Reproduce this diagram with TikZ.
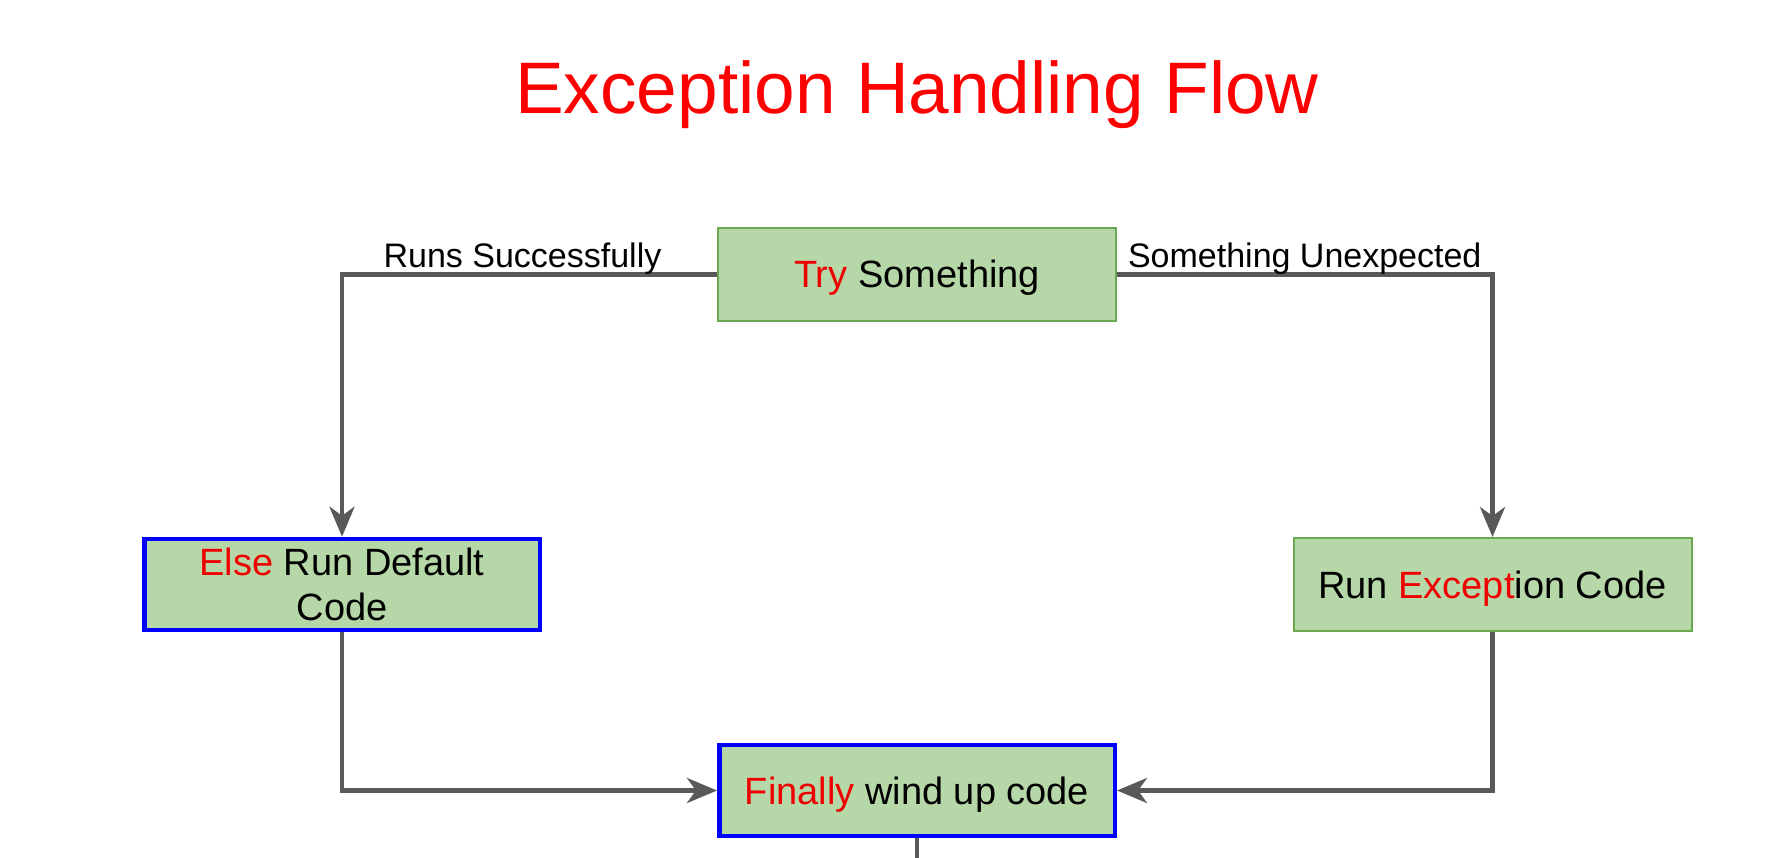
\documentclass[tikz,border=0pt]{standalone}
\usepackage{fontspec}
\setmainfont{Liberation Sans}
\usetikzlibrary{arrows.meta}
\definecolor{boxgreen}{HTML}{B6D7A8}
\definecolor{edgegreen}{HTML}{6AA84F}
\definecolor{linegray}{HTML}{595959}
\definecolor{hired}{HTML}{FF0000}
\definecolor{txtred}{HTML}{EE0000}
\tikzset{
  gbox/.style={draw=edgegreen, line width=2pt, fill=boxgreen, minimum width=398pt, minimum height=93pt, inner sep=0pt, align=center, text height=27pt, text depth=0pt, font=\fontsize{38}{45}\selectfont},
  bbox/.style={draw=blue, line width=4.5pt, fill=boxgreen, minimum width=395.5pt, minimum height=91pt, inner sep=0pt, align=center, text height=27pt, text depth=0pt, font=\fontsize{38}{45}\selectfont},
  arr/.style={draw=linegray, line width=4.5pt, -{Stealth[length=30pt, width=25pt, inset=9pt]}},
  plainline/.style={draw=linegray, line width=4.5pt},
  lbl/.style={font=\fontsize{34}{38}\selectfont, anchor=base, yshift=7pt, inner sep=0pt}
}
\begin{document}
\begin{tikzpicture}[x=1pt, y=-1pt]
\useasboundingbox (0,0) rectangle (1788,858);
\node[anchor=base, text=hired, font=\fontsize{73}{80}\selectfont, inner sep=0pt] (title) at (917,114) {Exception Handling Flow};
\node[gbox] (try) at (917,274.5) {\textcolor{txtred}{Try} Something};
\node[bbox, text height=72pt] (else) at (342,584.5) {\textcolor{txtred}{Else} Run Default\\Code};
\node[gbox] (exc) at (1492.5,584.5) {Run \textcolor{txtred}{Except}ion Code};
\node[bbox] (fin) at (917,790.5) {\textcolor{txtred}{Finally} wind up code};
\coordinate (bottom) at (917,862);
\draw[arr] (try.west) -| (else.north) node[lbl, pos=0.25, xshift=-7pt] {Runs Successfully};
\draw[arr] (try.east) -| (exc.north) node[lbl, pos=0.25] {Something Unexpected};
\draw[arr] (else.south) |- (fin.west);
\draw[arr] (exc.south) |- (fin.east);
\draw[plainline] (fin.south) -- (bottom);
\end{tikzpicture}
\end{document}
